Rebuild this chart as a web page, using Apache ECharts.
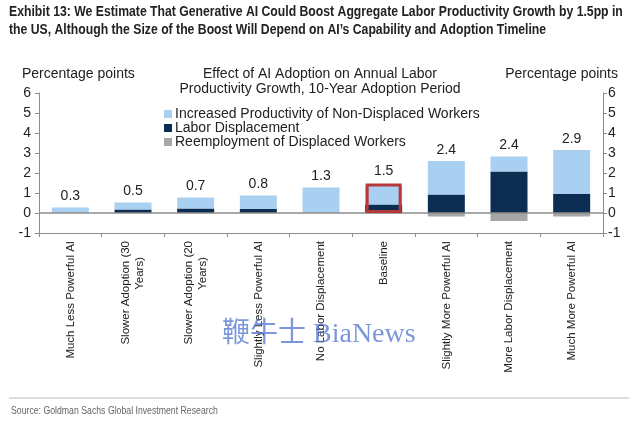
<!DOCTYPE html>
<html><head><meta charset="utf-8">
<script src="https://cdn.jsdelivr.net/npm/echarts@6/dist/echarts.min.js"></script>
<style>html,body{margin:0;padding:0;background:#fff}#c{width:640px;height:423px}</style>
</head><body><div id="c"></div>
<script>
const categories = ['Much Less Powerful AI', 'Slower Adoption (30\nYears)', 'Slower Adoption (20\nYears)', 'Slightly Less Powerful AI', 'No Labor Displacement', 'Baseline', 'Slightly More Powerful AI', 'More Labor Displacement', 'Much More Powerful AI'];
const productivity = [0.28, 0.36, 0.55, 0.67, 1.27, 0.92, 1.68, 0.75, 2.2];
const displacement = [0, 0.17, 0.23, 0.2, 0, 0.43, 0.92, 2.07, 0.95];
const reemployment = [0, 0, 0, 0, 0, -0.03, -0.18, -0.4, -0.18];
const totalLabels = ['0.3', '0.5', '0.7', '0.8', '1.3', '1.5', '2.4', '2.4', '2.9'];
const baselineBox = [null, null, null, null, null, 1.47, null, null, null];

const sans = "'Liberation Sans', Arial, sans-serif";
const txt = '#222';
const axisCol = '#8c8c8c';

const chart = echarts.init(document.getElementById('c'), null, {renderer: 'canvas'});
const labelOf = (i) => totalLabels[i];
const catFmt = (v) => v.indexOf('\n') < 0 ? '{a|' + v + '}' :
  v.split('\n').map((s, i) => (i === 0 ? '{a|' : '{b|') + s + '}').join('\n');

chart.setOption({
  animation: false,
  backgroundColor: '#fff',
  textStyle: {fontFamily: sans},
  grid: {left: 39, right: 37, top: 93, bottom: 190},
  legend: {
    orient: 'vertical', left: 159, top: 102, itemWidth: 8, itemHeight: 8, itemGap: 0,
    icon: 'rect',
    data: ['Increased Productivity of Non-Displaced Workers', 'Labor Displacement', 'Reemployment of Displaced Workers'],
    textStyle: {fontSize: 14, color: txt, fontFamily: sans, lineHeight: 14, padding: [0, 0, 0, -2]}
  },
  xAxis: [{
    type: 'category', data: categories, position: 'bottom',
    axisLine: {onZero: false, lineStyle: {color: axisCol}},
    axisTick: {show: true, length: 4, lineStyle: {color: axisCol}},
    axisLabel: {rotate: 90, fontSize: 11.5, lineHeight: 14, color: txt, margin: 8, interval: 0, fontFamily: sans,
      formatter: catFmt,
      rich: {
        a: {fontSize: 11.5, lineHeight: 14, color: txt, fontFamily: sans},
        b: {fontSize: 11.5, lineHeight: 14, color: txt, fontFamily: sans, padding: [0, 16, 0, 0]}
      }}
  }, {
    type: 'category', data: categories, show: false
  }],
  yAxis: [{
    type: 'value', min: -1, max: 6, interval: 1, position: 'left',
    axisLine: {show: true, lineStyle: {color: axisCol}},
    axisTick: {show: true, length: 4, lineStyle: {color: axisCol}},
    splitLine: {show: false},
    axisLabel: {fontSize: 14, color: txt, margin: 8, fontFamily: sans}
  }, {
    type: 'value', min: -1, max: 6, interval: 1, position: 'right',
    axisLine: {show: true, lineStyle: {color: axisCol}},
    axisTick: {show: true, length: 4, lineStyle: {color: axisCol}},
    splitLine: {show: false},
    axisLabel: {fontSize: 14, color: txt, margin: 5, fontFamily: sans}
  }],
  series: [{
    name: 'Labor Displacement', type: 'bar', stack: 's', data: displacement,
    barWidth: 37, itemStyle: {color: '#0c2d52'},
    markLine: {silent: true, symbol: 'none', label: {show: false},
      lineStyle: {color: axisCol, type: 'solid', width: 1.5}, data: [{yAxis: 0}]}
  }, {
    name: 'Increased Productivity of Non-Displaced Workers', type: 'bar', stack: 's',
    data: productivity.map((v, i) => i === 5 ? {value: v, label: {show: false}} : v),
    barWidth: 37, itemStyle: {color: '#a9d0f0'},
    label: {show: true, position: 'top', distance: 4, fontSize: 14, color: txt,
      formatter: (p) => labelOf(p.dataIndex)}
  }, {
    name: 'Reemployment of Displaced Workers', type: 'bar', stack: 's', data: reemployment,
    barWidth: 37, itemStyle: {color: '#a6a6a6'}
  }, {
    name: 'box', type: 'bar', xAxisIndex: 1, data: baselineBox, barWidth: 36, z: 5,
    itemStyle: {color: 'rgba(0,0,0,0)', borderColor: '#b5383a', borderWidth: 3},
    label: {show: true, position: 'top', distance: 5, fontSize: 14, color: txt,
      formatter: (p) => labelOf(p.dataIndex)}
  }],
  graphic: [
    {type: 'text', x: 9, y: 3, scaleX: 0.815, style: {text: 'Exhibit 13: We Estimate That Generative AI Could Boost Aggregate Labor Productivity Growth by 1.5pp in\nthe US, Although the Size of the Boost Will Depend on AI\u2019s Capability and Adoption Timeline', fontFamily: sans, fontWeight: 'bold', fontSize: 15, lineHeight: 18, fill: '#222', verticalAlign: 'top'}},
    {type: 'text', left: 22, top: 67, style: {text: 'Percentage points', fontFamily: sans, fontSize: 14, fill: txt}},
    {type: 'text', right: 22, top: 67, style: {text: 'Percentage points', fontFamily: sans, fontSize: 14, fill: txt}},
    {type: 'text', x: 320, y: 67, style: {text: 'Effect of AI Adoption on Annual Labor\nProductivity Growth, 10-Year Adoption Period', fontFamily: sans, fontSize: 14, lineHeight: 15, fill: txt, align: 'center', verticalAlign: 'top'}},
    {type: 'line', shape: {x1: 9, y1: 398, x2: 629, y2: 398}, style: {stroke: '#bbb', lineWidth: 1}},
    {type: 'text', x: 11, y: 406, scaleX: 0.83, style: {text: 'Source: Goldman Sachs Global Investment Research', fontFamily: sans, fontSize: 10.5, fill: '#666', verticalAlign: 'top'}},
    {type: 'text', x: 222, y: 321, z: 100, style: {text: '\u97ad\u725b\u58eb BiaNews', fontFamily: "'Liberation Serif', 'Noto Sans CJK SC', serif", fontSize: 28, fill: 'rgba(80,115,205,0.75)', verticalAlign: 'top'}}
  ]
});
</script></body></html>
